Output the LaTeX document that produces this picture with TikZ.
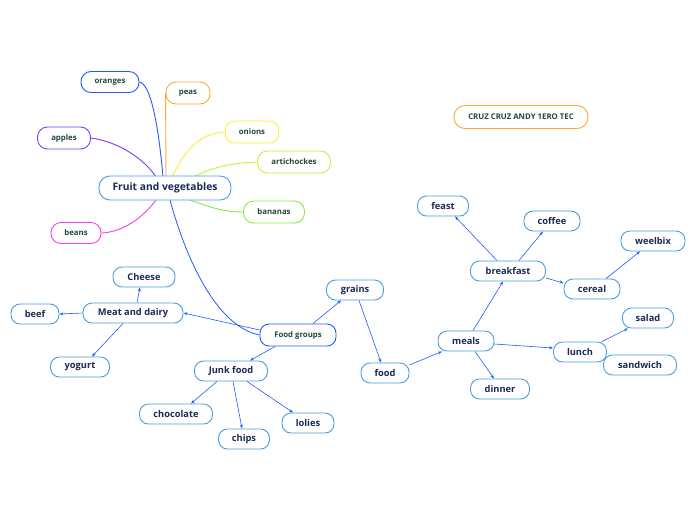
\documentclass[tikz,border=0pt]{standalone}
\usepackage{fontspec}
\setmainfont{Open Sans}
\usetikzlibrary{arrows.meta}
\definecolor{navy}{HTML}{1B2A55}
\definecolor{dgreen}{HTML}{1F4A3A}
\definecolor{lblue}{HTML}{4A9EDC}
\definecolor{cblue}{HTML}{1F5BFF}
\definecolor{corange}{HTML}{FFA733}
\definecolor{cyellow}{HTML}{FFEE33}
\definecolor{cyg}{HTML}{C6F03C}
\definecolor{cgreen}{HTML}{86EE3A}
\definecolor{cpurple}{HTML}{7A3CF5}
\definecolor{cmag}{HTML}{EE3FEE}
\tikzset{
  nd/.style={draw=lblue, line width=0.9pt, fill=white, rounded corners=9pt, inner sep=0pt,
    text=navy, font=\bfseries\fontsize{9.3}{11}\selectfont, minimum height=20pt},
  sm/.style={draw=#1, line width=0.9pt, fill=white, rounded corners=10pt, inner sep=0pt,
    text=dgreen, font=\bfseries\fontsize{7.8}{9}\selectfont, minimum height=22pt},
  conn/.style={draw=cblue, line width=0.6pt, -{Stealth[length=4pt,width=3pt]}},
  br/.style={draw=#1, line width=0.9pt},
}
\begin{document}
\begin{tikzpicture}[x=1pt,y=-1pt]
\useasboundingbox (0,0) rectangle (696,520);
% fruit branches (behind nodes)
\coordinate (fo) at (163,177);
\coordinate (fp) at (166,177);
\coordinate (fon) at (172,177);
\coordinate (fa) at (194,177);
\coordinate (fb) at (190,200);
\coordinate (fap) at (156,177);
\coordinate (fbe) at (156,200);
\coordinate (fg) at (170,200);
\node[sm=cblue, minimum width=58pt, minimum height=21pt] (oranges) at (110,82) {oranges};
\node[sm=corange, minimum width=44pt] (peas) at (188,93) {peas};
\node[sm=cyellow, minimum width=54pt] (onions) at (252,132) {onions};
\node[sm=cyg, minimum width=73pt] (artichockes) at (294,162) {artichockes};
\node[sm=cgreen, minimum width=61pt] (bananas) at (274,212) {bananas};
\node[sm=cpurple, minimum width=53pt] (apples) at (64,138) {apples};
\node[sm=cmag, minimum width=50pt, minimum height=21pt] (beans) at (76,233) {beans};
\draw[br=cblue] (oranges.east) .. controls (150,84) and (158,120) .. (fo);
\draw[br=corange] (peas.west) -- (fp);
\draw[br=cyellow] (onions.west) .. controls (200,133) and (185,150) .. (fon);
\draw[br=cyg] (artichockes.west) .. controls (230,163) and (210,168) .. (fa);
\draw[br=cgreen] (bananas.west) .. controls (220,212) and (205,205) .. (fb);
\draw[br=cpurple] (apples.east) .. controls (120,142) and (145,160) .. (fap);
\draw[br=cmag] (beans.east) .. controls (125,232) and (145,215) .. (fbe);
\node[nd, minimum width=76pt, minimum height=22pt, draw=cblue, text=dgreen, font=\bfseries\fontsize{7.8}{9}\selectfont] (fgroups) at (298,335) {Food groups};
\draw[draw=cblue, line width=0.8pt] (fgroups.west) .. controls (215,326) and (185,255) .. (fg);
\node[nd, minimum width=132pt, minimum height=24pt, rounded corners=11pt, font=\bfseries\fontsize{10.3}{12}\selectfont] (fruit) at (165,188) {Fruit and vegetables};
% other nodes
\node[nd, minimum width=134pt, minimum height=23pt, rounded corners=11pt, draw=corange, text=dgreen, font=\bfseries\fontsize{7.8}{9}\selectfont] (cruz) at (521,117) {CRUZ CRUZ ANDY 1ERO TEC};
\node[nd, minimum width=62pt] (cheese) at (144,277) {Cheese};
\node[nd, minimum width=100pt] (meat) at (133,313) {Meat and dairy};
\node[nd, minimum width=48pt] (beef) at (35,314) {beef};
\node[nd, minimum width=59pt] (yogurt) at (80,367) {yogurt};
\node[nd, minimum width=73pt] (junk) at (231,371) {Junk food};
\node[nd, minimum width=73pt] (choc) at (176,414) {chocolate};
\node[nd, minimum width=51pt] (chips) at (244,439) {chips};
\node[nd, minimum width=52pt] (lolies) at (308,423) {lolies};
\node[nd, minimum width=57pt] (grains) at (355,290) {grains};
\node[nd, minimum width=48pt] (food) at (385,373) {food};
\node[nd, minimum width=56pt] (meals) at (466,341) {meals};
\node[nd, minimum width=59pt] (dinner) at (500,389) {dinner};
\node[nd, minimum width=75pt] (breakfast) at (508,271) {breakfast};
\node[nd, minimum width=51pt] (feast) at (443,206) {feast};
\node[nd, minimum width=56pt] (coffee) at (552,221) {coffee};
\node[nd, minimum width=56pt] (cereal) at (592,289) {cereal};
\node[nd, minimum width=64pt] (weelbix) at (653,241) {weelbix};
\node[nd, minimum width=73pt] (sandwich) at (640,365) {sandwich};
\node[nd, minimum width=53pt] (lunch) at (580,352) {lunch};
\node[nd, minimum width=51pt] (salad) at (648,318) {salad};
% connectors
\draw[conn] (fgroups.west) ++(0,-5) -- (meat.east);
\draw[conn] ([xshift=-23pt]fgroups.south) -- ([xshift=19pt]junk.north);
\draw[conn] ([xshift=15pt]fgroups.north) -- ([xshift=-14pt]grains.south);
\draw[conn] ([xshift=4pt]meat.north) -- ([xshift=-4pt]cheese.south);
\draw[conn] (meat.west) -- (beef.east);
\draw[conn] ([xshift=-10pt]meat.south) -- ([xshift=12pt]yogurt.north);
\draw[conn] ([xshift=-14pt]junk.south) -- ([xshift=15pt]choc.north);
\draw[conn] ([xshift=2pt]junk.south) -- ([xshift=-2pt]chips.north);
\draw[conn] ([xshift=16pt]junk.south) -- ([xshift=-15pt]lolies.north);
\draw[conn] ([xshift=4pt]grains.south) -- ([xshift=-4pt]food.north);
\draw[conn] ([yshift=8pt]food.east) -- ([xshift=-24pt]meals.south);
\draw[conn] ([xshift=7pt]meals.north) -- ([xshift=-5pt]breakfast.south);
\draw[conn] ([xshift=9pt]meals.south) -- ([xshift=-6pt]dinner.north);
\draw[conn] ([yshift=-3pt]meals.east) -- ([yshift=4pt]lunch.west);
\draw[conn] ([xshift=-11pt]breakfast.north) -- ([xshift=12pt]feast.south);
\draw[conn] ([xshift=11pt]breakfast.north) -- ([xshift=-9pt]coffee.south);
\draw[conn] ([yshift=-7pt]breakfast.east) -- ([yshift=6pt]cereal.west);
\draw[conn] ([xshift=14pt]cereal.north) -- ([xshift=-13pt]weelbix.south);
\draw[conn] ([xshift=22pt]lunch.north) -- ([xshift=-20pt]salad.south);
\end{tikzpicture}
\end{document}
